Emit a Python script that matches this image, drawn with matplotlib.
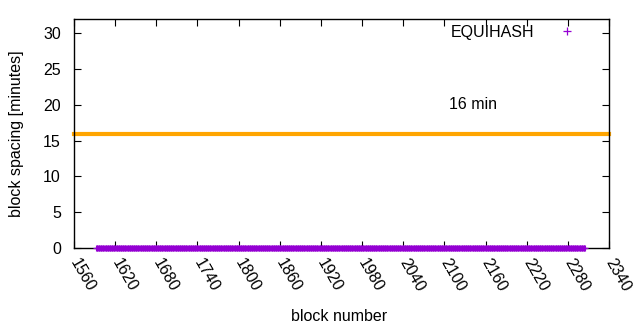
import numpy as np
import matplotlib
matplotlib.use("Agg")
import matplotlib.pyplot as plt

plt.rcParams['font.family'] = ['Liberation Sans', 'DejaVu Sans']

# data
block_numbers = np.arange(1592, 2306)
block_spacing = [0.0] * len(block_numbers)
target_minutes = 16
x_ticks = [1560, 1620, 1680, 1740, 1800, 1860, 1920, 1980, 2040, 2100, 2160, 2220, 2280, 2340]
y_ticks = [0, 5, 10, 15, 20, 25, 30]
series_label = "EQUIHASH"
annot_text = "16 min"
annot_pos = (2107, 20)

FS = 11.5
fig = plt.figure(figsize=(6.4, 3.3), dpi=100)
ax = fig.add_axes([74/640, 82/330, (609-74)/640, (248-19)/330])

ax.plot(block_numbers, block_spacing, linestyle='none', marker='+', markersize=5,
        markeredgewidth=0.8, color='#9400D3', label=series_label, clip_on=False, zorder=3)
ax.axhline(target_minutes, color='#FFA500', lw=3, clip_on=False, solid_capstyle='projecting', zorder=2)
ax.text(annot_pos[0], annot_pos[1], annot_text, fontsize=FS, ha='left', va='center')

ax.set_xlim(1560, 2340)
ax.set_ylim(0, 32)
ax.set_xticks(x_ticks)
ax.set_yticks(y_ticks)
ax.set_xticklabels([str(t) for t in x_ticks], rotation=-60, ha='left', va='center',
                   rotation_mode='anchor', fontsize=FS)
ax.set_yticklabels([str(t) for t in y_ticks], fontsize=FS)
ax.tick_params(direction='in', length=5, width=0.8, top=True, right=True)
ax.tick_params(axis='y', pad=9.5)
ax.tick_params(axis='x', pad=8.5)
for s in ax.spines.values():
    s.set_linewidth(1.0)

ax.set_xlabel("block number", fontsize=FS)
ax.xaxis.set_label_coords((339.5-74)/535, (248-309)/229)
ax.set_ylabel("block spacing [minutes]", fontsize=FS)
ax.yaxis.set_label_coords((24-74)/535, 0.5)

leg = ax.legend(loc='center right', bbox_to_anchor=((593-74)/535, (248-32)/229), frameon=False,
                markerfirst=False, fontsize=FS, handlelength=3.3, handletextpad=0.4,
                borderaxespad=0, borderpad=0)
for h in leg.legend_handles:
    h.set_markersize(5.5)
    h.set_markeredgewidth(0.9)

fig.savefig("out.png", dpi=100)
